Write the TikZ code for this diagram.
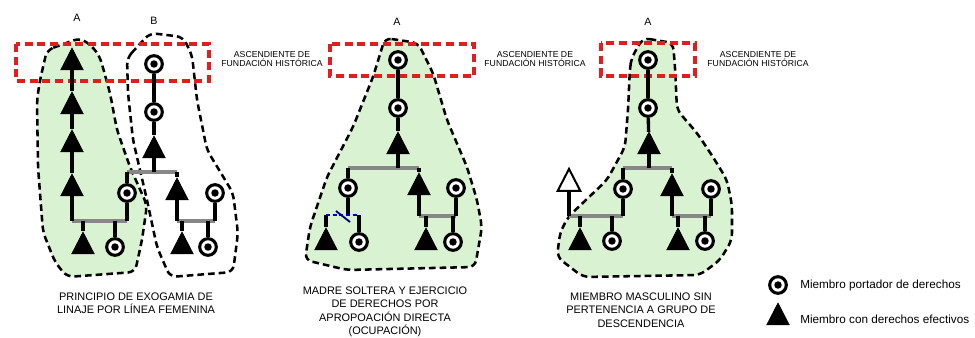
\documentclass[tikz,border=0pt]{standalone}
\usepackage{fontspec}
\setmainfont{Liberation Sans}
\usetikzlibrary{shapes.geometric}

\definecolor{zonegreen}{RGB}{216,242,210}
\definecolor{founderred}{RGB}{225,30,30}
\definecolor{linkgray}{RGB}{135,135,135}
\definecolor{linkblue}{RGB}{0,0,210}

\begin{document}
\begin{tikzpicture}[x=0.75pt, y=-0.75pt,
    holder/.style={circle, draw, fill=white, line width=2.3pt, minimum size=12.5pt, inner sep=0pt,
        path picture={\fill [black] (path picture bounding box.center) circle (2.8pt);}},
    member/.style={isosceles triangle, shape border rotate=90, isosceles triangle stretches,
        fill=black, draw=black, line width=0.4pt, inner sep=0pt, minimum width=17pt, minimum height=16.5pt},
    outsider/.style={member, fill=white, line width=1.5pt},
    descent/.style={line width=2.5pt},
    tie/.style={line width=2.5pt, linkgray},
    zone/.style={line width=1.9pt, dash pattern=on 5pt off 3pt, rounded corners=5pt},
    founder/.style={founderred, line width=2.3pt, dash pattern=on 6pt off 3.5pt},
    caption/.style={align=center, anchor=north, inner sep=0pt, font=\fontsize{8.2}{9.8}\selectfont},
    tag/.style={align=center, font=\fontsize{6.5}{7}\selectfont},
    legend/.style={anchor=west, inner sep=0pt, font=\fontsize{8.8}{10}\selectfont}]
    \useasboundingbox (0,0) rectangle (975,338);

    % grupos de descendencia
    \draw [zone, fill=zonegreen] (47,50) -- (80,38) -- (92,46) -- (100,57) -- (110,93) -- (117,130)
        -- (130,167) -- (147,205) -- (142,240) -- (135,272) -- (67,277) -- (55,262) -- (43,232)
        -- (38,167) -- (37,100) -- (40,80) -- cycle;
    \draw [zone] (127,58) -- (150,33) -- (183,37) -- (192,55) -- (197,100) -- (207,150) -- (233,193)
        -- (238,233) -- (233,272) -- (170,277) -- (157,247) -- (147,200) -- (133,140) -- (128,93) -- cycle;
    \draw [zone, fill=zonegreen] (385,38) -- (418,43) -- (433,73) -- (447,120) -- (467,167) -- (477,200)
        -- (482,227) -- (475,267) -- (347,270) -- (305,260) -- (310,227) -- (327,177) -- (353,127)
        -- (373,77) -- cycle;
    \draw [zone, fill=zonegreen] (643,38) -- (673,43) -- (675,67) -- (677,110) -- (697,133) -- (713,157)
        -- (727,180) -- (732,205) -- (732,240) -- (720,260) -- (700,275) -- (583,277) -- (557,257)
        -- (560,233) -- (568,217) -- (607,180) -- (625,147) -- (628,110) -- (630,67) -- (632,57) -- cycle;

    % ascendientes de fundacion
    \draw [founder] (16,44) rectangle (209,81);
    \draw [founder] (330,44) rectangle (474,76);
    \draw [founder] (601,43) rectangle (695,76);

    \node [font=\fontsize{8}{9}\selectfont] at (77,18) {A};
    \node [font=\fontsize{8}{9}\selectfont] at (154,21) {B};
    \node [font=\fontsize{8}{9}\selectfont] at (397,22) {A};
    \node [font=\fontsize{8}{9}\selectfont] at (648,22) {A};
    \node [tag] at (272,59) {ASCENDIENTE DE\\FUNDACIÓN HISTÓRICA};
    \node [tag] at (535,59) {ASCENDIENTE DE\\FUNDACIÓN HISTÓRICA};
    \node [tag] at (758,59) {ASCENDIENTE DE\\FUNDACIÓN HISTÓRICA};

    % exogamia
    \node [member] (ta1) at (72,63) {};
    \node [member] (ta2) at (72,107) {};
    \node [member] (ta3) at (72,145) {};
    \node [member] (ta4) at (72,189) {};
    \node [member] (ta5) at (83,247) {};
    \node [holder] (ca6) at (115,247) {};
    \node [holder] (cb1) at (154,64) {};
    \node [holder] (cb2) at (154,112) {};
    \node [member] (tb3) at (154,151) {};
    \node [holder] (cb4) at (127,193) {};
    \node [member] (tb5) at (177,193) {};
    \node [holder] (cb6) at (215,193) {};
    \node [member] (tb7) at (182,247) {};
    \node [holder] (cb8) at (208,247) {};
    \coordinate (ja) at (72,221);
    \coordinate (jb) at (127,221);
    \coordinate (jc) at (127,172);
    \coordinate (jd) at (177,172);
    \coordinate (je) at (177,221);
    \coordinate (jf) at (215,221);
    \draw [descent] (ta1) -- (ta2);
    \draw [descent] (ta2) -- (ta3);
    \draw [descent] (ta3) -- (ta4);
    \draw [descent] (cb1) -- (cb2);
    \draw [descent] (cb2) -- (tb3);
    \draw [tie] (ja) -- (jb);
    \draw [tie] (jc) -- (jd);
    \draw [tie] (je) -- (jf);
    \draw [descent] (ta4) -- (ja);
    \draw [descent] (cb4) -- (jb);
    \draw [descent] (ta5 |- ja) -- (ta5);
    \draw [descent] (ca6 |- ja) -- (ca6);
    \draw [descent] (tb3) -- (tb3 |- jc);
    \draw [descent] (jc) -- (cb4);
    \draw [descent] (jd) -- (tb5);
    \draw [descent] (tb5) -- (je);
    \draw [descent] (cb6) -- (jf);
    \draw [descent] (tb7 |- je) -- (tb7);
    \draw [descent] (cb8 |- je) -- (cb8);

    % madre soltera
    \node [holder] (cm1) at (398,60) {};
    \node [holder] (cm2) at (398,108) {};
    \node [member] (tm3) at (398,147) {};
    \node [holder] (cm4) at (348,188) {};
    \node [member] (tm5) at (419,188) {};
    \node [holder] (cm6) at (456,188) {};
    \node [member] (tm7) at (426,243) {};
    \node [holder] (cm8) at (453,242) {};
    \node [member] (tm9) at (326,243) {};
    \node [holder] (cm10) at (359,242) {};
    \coordinate (jm1) at (348,168);
    \coordinate (jm2) at (419,168);
    \coordinate (jm3) at (419,216);
    \coordinate (jm4) at (456,216);
    \coordinate (jm5) at (326,215);
    \coordinate (jm6) at (359,215);
    \draw [descent] (cm1) -- (cm2);
    \draw [descent] (cm2) -- (tm3);
    \draw [tie] (jm1) -- (jm2);
    \draw [tie] (jm3) -- (jm4);
    \draw [descent] (tm3) -- (tm3 |- jm1);
    \draw [descent] (jm1) -- (cm4);
    \draw [descent] (jm2) -- (tm5);
    \draw [descent] (tm5) -- (jm3);
    \draw [descent] (cm6) -- (jm4);
    \draw [descent] (tm7 |- jm3) -- (tm7);
    \draw [descent] (cm8 |- jm3) -- (cm8);
    \draw [descent] (cm4) -- (cm4 |- jm5);
    \draw [descent] (jm5) -- (tm9);
    \draw [descent] (jm6) -- (cm10);
    \draw [linkblue, line width=1.8pt, dash pattern=on 3pt off 2pt] (jm5) -- (jm6);
    \draw [line width=1.4pt, linkblue!60!black] (336,211) -- (350,222);

    % miembro masculino
    \node [holder] (cq1) at (648,60) {};
    \node [holder] (cq2) at (648,108) {};
    \node [member] (tq3) at (649,147) {};
    \node [holder] (cq4) at (623,189) {};
    \node [member] (tq5) at (672,189) {};
    \node [holder] (cq6) at (711,189) {};
    \node [outsider] (oq) at (569,184) {};
    \node [member] (tq7) at (580,243) {};
    \node [holder] (cq8) at (612,241) {};
    \node [member] (tq9) at (678,243) {};
    \node [holder] (cq10) at (705,241) {};
    \coordinate (jq1) at (623,168);
    \coordinate (jq2) at (672,168);
    \coordinate (jq3) at (569,216);
    \coordinate (jq4) at (623,216);
    \coordinate (jq5) at (672,216);
    \coordinate (jq6) at (711,216);
    \draw [descent] (cq1) -- (cq2);
    \draw [descent] (cq2) -- (tq3);
    \draw [tie] (jq1) -- (jq2);
    \draw [tie] (jq3) -- (jq4);
    \draw [tie] (jq5) -- (jq6);
    \draw [descent] (tq3) -- (tq3 |- jq1);
    \draw [descent] (jq1) -- (cq4);
    \draw [descent] (jq2) -- (tq5);
    \draw [descent] (cq4) -- (jq4);
    \draw [descent] (oq) -- (jq3);
    \draw [descent] (tq5) -- (jq5);
    \draw [descent] (cq6) -- (jq6);
    \draw [descent] (tq7 |- jq3) -- (tq7);
    \draw [descent] (cq8 |- jq3) -- (cq8);
    \draw [descent] (tq9 |- jq5) -- (tq9);
    \draw [descent] (cq10 |- jq5) -- (cq10);

    \node [caption] at (136,293) {PRINCIPIO DE EXOGAMIA DE\\LINAJE POR LÍNEA FEMENINA};
    \node [caption] at (385,287) {MADRE SOLTERA Y EJERCICIO\\DE DERECHOS POR\\APROPOACIÓN DIRECTA\\(OCUPACIÓN)};
    \node [caption] at (641,293) {MIEMBRO MASCULINO SIN\\PERTENENCIA A GRUPO DE\\DESCENDENCIA};

    % leyenda
    \node [holder] (cl) at (778,285) {};
    \node [member] (tl) at (778,318) {};
    \node [legend] at (800,285) {Miembro portador de derechos};
    \node [legend] at (800,319) {Miembro con derechos efectivos};
\end{tikzpicture}
\end{document}
